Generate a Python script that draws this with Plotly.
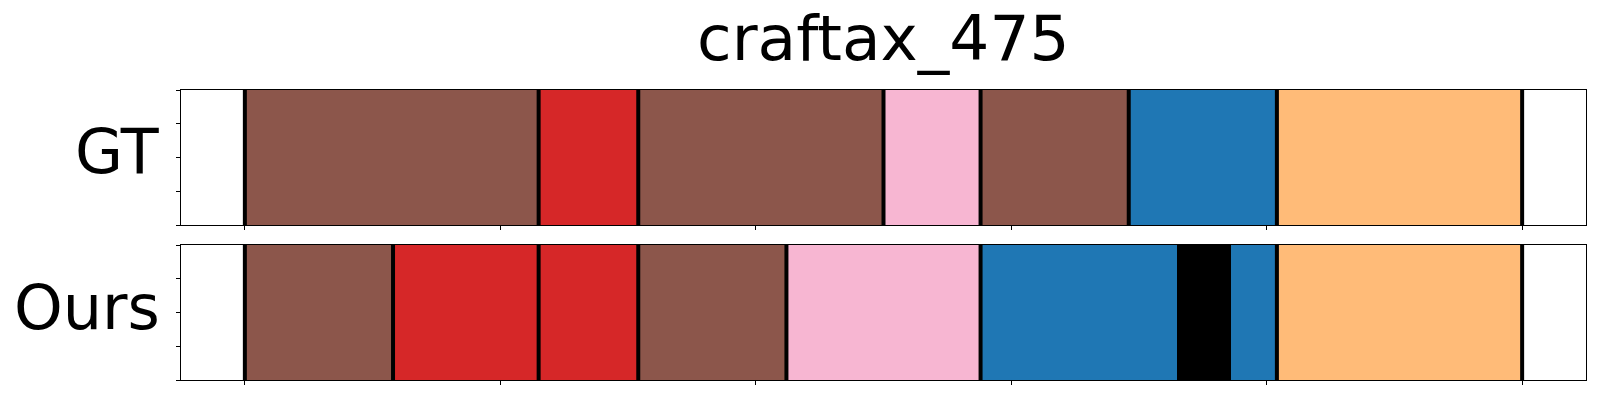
import plotly.graph_objects as go

# ---- data ----
title = "craftax_475"
row_labels = ["GT", "Ours"]

gt_starts = [0, 115, 154, 250, 288, 346, 404]
gt_ends = [115, 154, 250, 288, 346, 404, 500]
gt_colors = ["#8c564b", "#d62728", "#8c564b", "#f7b6d2", "#8c564b", "#1f77b4", "#ffbb78"]
gt_bounds = [0, 115, 154, 250, 288, 346, 404, 500]

ours_starts = [0, 58, 115, 154, 212, 288, 365, 386, 404]
ours_ends = [58, 115, 154, 212, 288, 365, 386, 404, 500]
ours_colors = ["#8c564b", "#d62728", "#d62728", "#8c564b", "#f7b6d2", "#1f77b4", "#000000", "#1f77b4", "#ffbb78"]
ours_bounds = [0, 58, 115, 154, 212, 288, 404, 500]

x_ticks = [0, 100, 200, 300, 400, 500]
y_ticks = [0, 0.25, 0.5, 0.75, 1.0]
x_range = [-25, 525]

FONT = "DejaVu Sans"

fig = go.Figure()

rows = [
    (gt_starts, gt_ends, gt_colors, gt_bounds, "x", "y"),
    (ours_starts, ours_ends, ours_colors, ours_bounds, "x2", "y2"),
]
for starts, ends, colors, bounds, xa, ya in rows:
    fig.add_trace(go.Bar(
        y=[0.5] * len(starts),
        x=[e - s for s, e in zip(starts, ends)],
        base=starts,
        orientation="h",
        width=1.0,
        marker=dict(color=colors, line=dict(width=0)),
        xaxis=xa, yaxis=ya, showlegend=False, hoverinfo="skip",
    ))
    for b in bounds:
        fig.add_trace(go.Scatter(
            x=[b, b], y=[0, 1], mode="lines",
            line=dict(color="black", width=4),
            xaxis=xa, yaxis=ya, showlegend=False, hoverinfo="skip",
        ))

axis_common = dict(showline=True, linecolor="black", linewidth=1, mirror=True,
                   ticks="outside", ticklen=4, tickcolor="black", tickwidth=1,
                   showticklabels=False, showgrid=False, zeroline=False)

top_dom = [155 / 290, 1.0]
bot_dom = [0.0, 135 / 290]

fig.update_layout(
    width=1600, height=400,
    margin=dict(l=181, r=14, t=90, b=20),
    paper_bgcolor="white", plot_bgcolor="white",
    barmode="overlay", bargap=0,
    font=dict(family=FONT, color="black"),
    xaxis=dict(domain=[0, 1], range=x_range, tickvals=x_ticks, anchor="y", **axis_common),
    yaxis=dict(domain=top_dom, range=[0, 1], tickvals=y_ticks, anchor="x", **axis_common),
    xaxis2=dict(domain=[0, 1], range=x_range, tickvals=x_ticks, anchor="y2", matches="x", **axis_common),
    yaxis2=dict(domain=bot_dom, range=[0, 1], tickvals=y_ticks, anchor="x2", **axis_common),
)

fig.add_annotation(text=title, xref="paper", yref="paper", x=0.5, y=(380 - 39) / 290,
                   xanchor="center", yanchor="middle", showarrow=False,
                   font=dict(family=FONT, size=63, color="black"))
label_y = [(380 - 151.5) / 290, (380 - 307.5) / 290]
for lab, ly in zip(row_labels, label_y):
    fig.add_annotation(text=lab, xref="paper", yref="paper", x=(162 - 181) / 1405, y=ly,
                       xanchor="right", yanchor="middle", showarrow=False,
                       font=dict(family=FONT, size=62, color="black"))

fig.write_html("out.html",
               config={"displayModeBar": False, "staticPlot": True},
               post_script="document.body.style.margin='0';document.body.style.overflow='hidden';")
